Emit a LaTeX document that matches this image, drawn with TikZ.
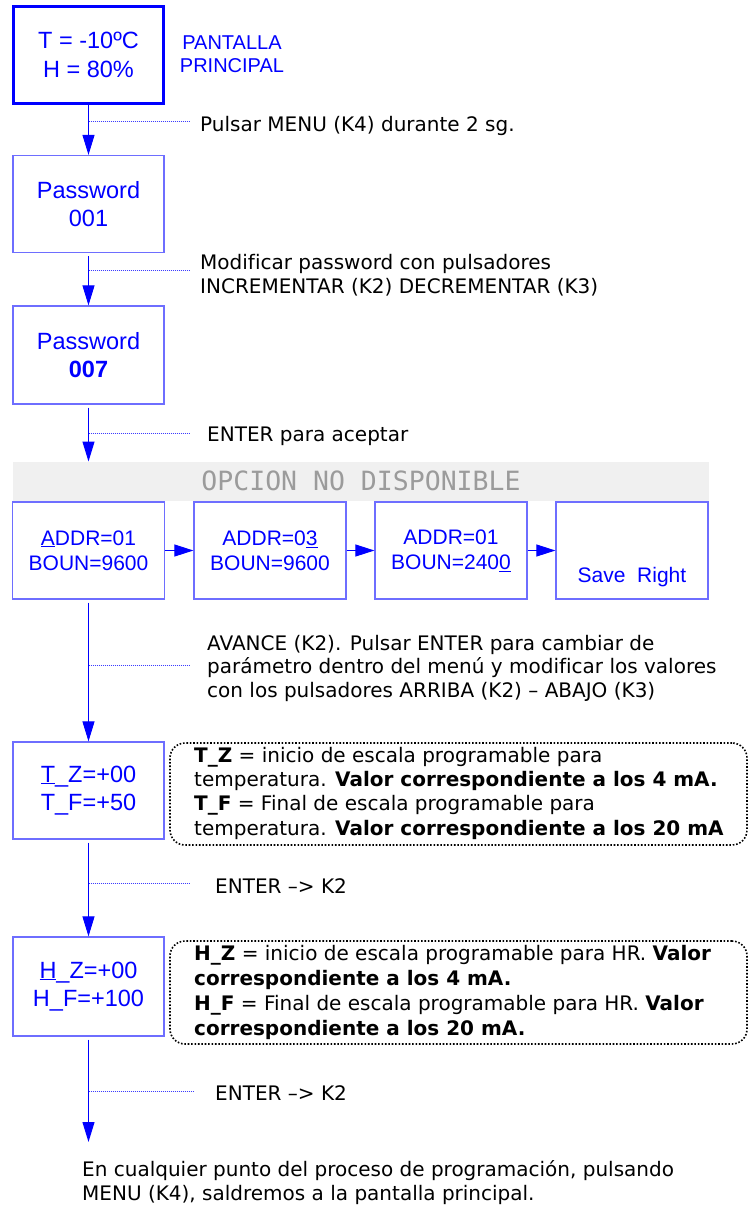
\documentclass[tikz,border=0pt]{standalone}
\usepackage{fontspec}
\setmainfont{DejaVu Sans}[Ligatures=NoCommon]
\newfontfamily\boxfont{Liberation Sans}
\newfontfamily\bandfont{DejaVu Sans Mono}
\usetikzlibrary{arrows.meta}
\definecolor{pblue}{RGB}{0,0,255}
\definecolor{lblue}{RGB}{110,110,255}
\definecolor{dblue}{RGB}{60,60,255}
\definecolor{bandgray}{RGB}{240,240,240}
\definecolor{bandtext}{RGB}{155,155,155}
\begin{document}
\begin{tikzpicture}[x=1pt,y=-1pt,
  screen/.style={draw=lblue, line width=1.2pt, minimum width=151pt, minimum height=97pt,
    inner sep=0pt, text=pblue, align=center, font=\boxfont\fontsize{23.5pt}{28.5pt}\selectfont},
  addrbox/.style={screen, minimum width=152pt, font=\boxfont\fontsize{21pt}{25pt}\selectfont},
  conn/.style={draw=pblue, line width=1pt, -{Triangle[length=20pt,width=12pt]}, shorten <=3pt},
  hconn/.style={draw=pblue, line width=1pt, -{Triangle[length=19pt,width=12pt]}},
  dotline/.style={draw=dblue, line width=1pt, dash pattern=on 1pt off 1pt},
  lbl/.style={anchor=base west, inner sep=0pt, align=left, text=black,
    font=\fontsize{20pt}{23.5pt}\selectfont},
  notebox/.style={draw=black, line width=1.6pt, dash pattern=on 1.6pt off 1.8pt,
    rounded corners=15pt, minimum width=577pt, inner sep=0pt},
  notetext/.style={anchor=base west, inner sep=0pt, align=left, text=black,
    font=\fontsize{20pt}{24.3pt}\selectfont},
  bandbox/.style={fill=bandgray, minimum width=696pt, minimum height=39pt, inner sep=0pt,
    text=bandtext, font=\bandfont\fontsize{26.5pt}{30pt}\selectfont},
  pantlbl/.style={anchor=base, inner sep=0pt, align=center, text=pblue,
    font=\boxfont\fontsize{20pt}{23pt}\selectfont}
]
\useasboundingbox (0,0) rectangle (751,1207);

% grey band
\node[bandbox] (band) at (361,481.2) {OPCION NO DISPONIBLE};

% main screen
\node[screen, draw=pblue, line width=3pt, minimum width=150pt] (main) at (88.5,55) {T = -10ºC\\H = 80\%};
\node[pantlbl] (pant) at (232,73) {PANTALLA\\PRINCIPAL};

% password screens
\node[screen] (pw1) at (88.5,204) {Password\\001};
\node[screen, minimum height=98pt] (pw2) at (88.5,355) {Password\\\textbf{007}};

% address screens
\node[addrbox] (a1) at (88.5,550.5) {\underline{A}DDR=01\\BOUN=9600};
\node[addrbox] (a2) at (270,550.5) {ADDR=0\underline{3}\\BOUN=9600};
\node[addrbox] (a3) at (451,550.5) {ADDR=01\\BOUN=240\underline{0}};
\node[addrbox] (a4) at (632,550.5) {};
\node[anchor=base, inner sep=0pt, text=pblue, font=\boxfont\fontsize{21pt}{25pt}\selectfont] (a4t) at (632,582.6) {Save~~Right};

% scale screens
\node[screen] (tz) at (88.5,790.5) {\underline{T}\_Z=+00\\T\_F=+50};
\node[screen, minimum height=99pt] (hz) at (88.5,986.5) {\underline{H}\_Z=+00\\H\_F=+100};
\coordinate (endpt) at (88.5,1142);

% connectors
\draw[conn, shorten <=0pt] (main) -- (pw1);
\draw[conn] (pw1) -- (pw2);
\draw[conn] (pw2) -- (pw2 |- band.north);
\draw[hconn] (a1) -- (a2);
\draw[hconn] (a2) -- (a3);
\draw[hconn] (a3) -- (a4);
\draw[conn] (a1) -- (tz);
\draw[conn] (tz) -- (hz);
\draw[conn] (hz) -- (endpt);

% dotted leaders
\coordinate (d1a) at (88.5,121.7); \coordinate (d1b) at (189,121.7);
\coordinate (d2a) at (88.5,270);   \coordinate (d2b) at (189,270);
\coordinate (d3a) at (88.5,433);   \coordinate (d3b) at (189,433);
\coordinate (d4a) at (88.5,665.7); \coordinate (d4b) at (189,665.7);
\coordinate (d5a) at (88.5,883);   \coordinate (d5b) at (190,883);
\coordinate (d6a) at (88.5,1091);  \coordinate (d6b) at (193,1091);
\draw[dotline] (d1a) -- (d1b);
\draw[dotline] (d2a) -- (d2b);
\draw[dotline] (d3a) -- (d3b);
\draw[dotline] (d4a) -- (d4b);
\draw[dotline] (d5a) -- (d5b);
\draw[dotline] (d6a) -- (d6b);

% labels (base = baseline of the last line)
\node[lbl] (l1) at (200,131) {Pulsar MENU (K4) durante 2 sg.};
\node[lbl] (l2) at (200,293) {Modificar password con pulsadores\\INCREMENTAR (K2) DECREMENTAR (K3)};
\node[lbl] (l3) at (207,441) {ENTER para aceptar};
\node[lbl] (l4) at (207,697) {AVANCE (K2). Pulsar ENTER para cambiar de\\parámetro dentro del menú y modificar los valores\\con los pulsadores ARRIBA (K2) – ABAJO (K3)};
\node[lbl] (l5) at (215,893) {ENTER –> K2};
\node[lbl] (l6) at (215,1100) {ENTER –> K2};
\node[lbl] (l7) at (82,1200) {En cualquier punto del proceso de programación, pulsando\\MENU (K4), saldremos a la pantalla principal.};

% notes
\node[notebox, minimum height=102pt] (nb1) at (458.5,794) {};
\node[notetext] (nt1) at (194,835) {\textbf{T\_Z} = inicio de escala programable para\\temperatura. \textbf{Valor correspondiente a los 4 mA.}\\\textbf{T\_F} = Final de escala programable para\\temperatura. \textbf{Valor correspondiente a los 20 mA}};
\node[notebox, minimum height=103pt] (nb2) at (458.5,992.5) {};
\node[notetext, font=\fontsize{20pt}{25pt}\selectfont] (nt2) at (194,1035) {\textbf{H\_Z} = inicio de escala programable para HR. \textbf{Valor}\\\textbf{correspondiente a los 4 mA.}\\\textbf{H\_F} = Final de escala programable para HR. \textbf{Valor}\\\textbf{correspondiente a los 20 mA.}};
\end{tikzpicture}
\end{document}
